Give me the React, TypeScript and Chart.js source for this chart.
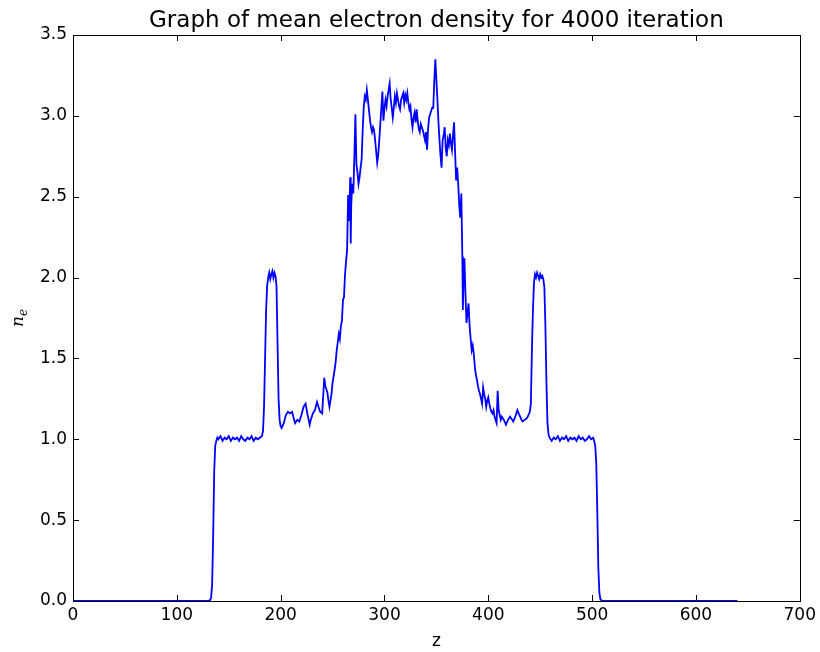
import React, { useEffect, useRef } from "react";
import { Chart, registerables } from "chart.js";

Chart.register(...registerables);

const TITLE = "Graph of mean electron density for 4000 iteration";
const X_LABEL = "z";
const X_TICKS = [0, 100, 200, 300, 400, 500, 600, 700];
const Y_TICKS = [0, 0.5, 1.0, 1.5, 2.0, 2.5, 3.0, 3.5];

const zValues = [
  0, 20, 40, 60, 80, 100, 120, 130, 132, 133, 134, 135, 136, 137, 138, 139,
  140, 142, 144, 146, 148, 150, 152, 154, 156, 158, 160, 162, 164, 166, 168, 170, 172, 174, 176, 178, 180, 182,
  183, 184, 185, 186, 187, 188, 189, 190, 191, 192, 193, 194, 195, 196, 197, 198, 199, 200, 201, 203, 205, 207, 209, 211, 213, 214, 216, 218, 220, 222, 224, 226, 228, 229, 231, 233, 235, 236, 238, 240,
  242, 243, 245, 246, 247, 249, 250, 252, 253, 254, 255, 256, 257, 258, 259, 260, 261, 262, 263, 264, 265, 266, 267, 267.5, 268, 269, 270, 271, 272, 273, 274, 275, 276, 277, 278, 279, 280,
  281, 282, 283, 284, 285, 286, 287, 288, 289, 290, 291, 292, 293, 294, 295, 296, 297, 298, 299, 300, 301, 302, 303, 304, 305, 306, 307, 308, 309, 310, 311, 312, 313, 314, 315, 316, 317, 318, 319, 320,
  321, 322, 323, 324, 325, 326, 327, 328, 329, 330, 331, 332, 333, 334, 335, 336, 337, 338, 339, 340, 341, 342, 343, 344, 345, 346, 347, 348, 349, 350, 351, 352, 353, 354, 355, 356, 357, 358, 359, 360,
  361, 362, 363, 364, 365, 366, 367, 368, 369, 370, 371, 372, 373, 374, 375, 375.5, 376, 377, 378, 379, 380, 381, 382, 383, 384, 385, 386, 387, 388, 389, 390, 391, 392, 393, 394, 395, 396, 397, 398, 399, 400,
  401, 402, 403, 404, 405, 406, 407, 408, 409, 410, 411, 412, 413, 415, 417, 419, 421, 423, 424, 426, 428, 430, 432, 433, 435, 437, 438, 440,
  441, 442, 443, 444, 445, 446, 447, 448, 449, 450, 451, 452, 453, 454, 455, 456, 457, 458, 459, 461, 463, 465, 467, 469, 471, 473, 475, 477, 479, 481, 483, 485, 487, 489, 491, 493, 495, 497, 499,
  501, 502, 503, 504, 505, 506, 507, 508, 510, 530, 560, 600, 640
];

const neValues = [
  0, 0, 0, 0, 0, 0, 0, 0, 0.005, 0.02, 0.1, 0.4, 0.8, 0.96, 0.99, 1.01,
  1.0, 1.02, 0.99, 1.01, 1.0, 1.02, 0.99, 1.01, 1.0, 1.01, 0.99, 1.02, 1.0, 0.99, 1.01, 1.0, 1.02, 0.99, 1.01, 1.0, 1.01, 1.02,
  1.05, 1.2, 1.5, 1.8, 1.95, 2.0, 2.03, 1.99, 2.02, 2.04, 2.0, 2.03, 2.01, 1.95, 1.6, 1.25, 1.12, 1.08, 1.07, 1.1, 1.15, 1.17, 1.16, 1.17, 1.12, 1.1, 1.12, 1.11, 1.15, 1.2, 1.22, 1.15, 1.09, 1.12, 1.16, 1.18, 1.23, 1.21, 1.17, 1.16,
  1.38, 1.33, 1.29, 1.24, 1.2, 1.28, 1.35, 1.43, 1.48, 1.55, 1.6, 1.65, 1.62, 1.7, 1.73, 1.86, 1.88, 2.02, 2.1, 2.17, 2.51, 2.35, 2.62, 2.21, 2.45, 2.58, 2.52, 2.75, 3.01, 2.7, 2.65, 2.58, 2.62, 2.68, 2.73, 2.91, 3.05,
  3.12, 3.1, 3.16, 3.1, 3.04, 2.98, 2.93, 2.9, 2.93, 2.91, 2.85, 2.78, 2.71, 2.76, 2.85, 2.95, 3.05, 3.15, 2.97, 3.05, 3.1, 3.06, 3.12, 3.16, 3.2, 3.1, 3.05, 2.99, 3.05, 3.12, 3.08, 3.14, 3.1, 3.06, 3.04, 3.1, 3.12, 3.14, 3.08, 3.13,
  3.1, 3.14, 3.08, 3.04, 3.06, 2.98, 2.93, 2.99, 3.02, 2.96, 3.04, 2.97, 2.92, 2.9, 2.95, 2.93, 2.91, 2.88, 2.85, 2.9, 2.79, 2.92, 2.99, 3.01, 3.03, 3.05, 3.05, 3.22, 3.35, 3.22, 3.1, 2.96, 2.85, 2.75, 2.68, 2.85, 2.88, 2.93, 2.8, 2.75,
  2.85, 2.82, 2.89, 2.83, 2.79, 2.88, 2.96, 2.78, 2.6, 2.68, 2.58, 2.45, 2.37, 2.52, 2.13, 1.8, 1.95, 2.12, 1.9, 1.72, 1.78, 1.84, 1.7, 1.62, 1.55, 1.58, 1.53, 1.45, 1.4, 1.37, 1.33, 1.3, 1.28, 1.25, 1.22, 1.32, 1.28, 1.25, 1.2, 1.24, 1.26,
  1.22, 1.19, 1.17, 1.16, 1.18, 1.14, 1.12, 1.1, 1.3, 1.18, 1.15, 1.12, 1.14, 1.12, 1.09, 1.12, 1.14, 1.12, 1.11, 1.14, 1.18, 1.15, 1.12, 1.11, 1.12, 1.13, 1.14, 1.17,
  1.22, 1.55, 1.8, 1.97, 2.02, 2.0, 2.03, 2.01, 1.99, 2.02, 2.0, 2.01, 1.99, 1.94, 1.7, 1.35, 1.1, 1.03, 1.01, 0.99, 1.01, 1.0, 1.02, 0.99, 1.01, 1.0, 1.02, 0.99, 1.01, 1.0, 1.01, 0.99, 1.02, 1.0, 1.01, 0.99, 1.0, 1.02, 1.0,
  1.01, 0.99, 0.96, 0.85, 0.55, 0.2, 0.05, 0.01, 0, 0, 0, 0, 0
];

const FONT = "'DejaVu Sans', sans-serif";

const framePlugin = {
  id: "mplFrame",
  beforeDatasetsDraw(chart: any) {
    const { ctx, chartArea } = chart;
    const { left, right, top, bottom } = chartArea;
    const xs = chart.scales.x;
    const ys = chart.scales.y;
    ctx.save();
    ctx.strokeStyle = "#000";
    ctx.lineWidth = 1;
    ctx.strokeRect(Math.round(left) + 0.5, Math.round(top) + 0.5, Math.round(right - left), Math.round(bottom - top));
    const tl = 6;
    ctx.beginPath();
    X_TICKS.forEach((v) => {
      const px = Math.round(xs.getPixelForValue(v)) + 0.5;
      ctx.moveTo(px, bottom);
      ctx.lineTo(px, bottom - tl);
      ctx.moveTo(px, top);
      ctx.lineTo(px, top + tl);
    });
    Y_TICKS.forEach((v) => {
      const py = Math.round(ys.getPixelForValue(v)) + 0.5;
      ctx.moveTo(left, py);
      ctx.lineTo(left + tl, py);
      ctx.moveTo(right, py);
      ctx.lineTo(right - tl, py);
    });
    ctx.stroke();
    ctx.restore();
  },
  afterDraw(chart: any) {
    const { ctx, chartArea } = chart;
    const cx = (chartArea.left + chartArea.right) / 2;
    ctx.save();
    ctx.fillStyle = "#000";
    ctx.textAlign = "center";
    ctx.textBaseline = "alphabetic";
    ctx.font = `23px ${FONT}`;
    ctx.fillText(TITLE, cx, 27);
    ctx.font = `17px ${FONT}`;
    ctx.fillText(X_LABEL, cx, 646);
    const cy = (chartArea.top + chartArea.bottom) / 2;
    ctx.translate(23, cy);
    ctx.rotate(-Math.PI / 2);
    ctx.textAlign = "left";
    ctx.font = `italic 17px 'DejaVu Serif', serif`;
    const nW = ctx.measureText("n").width;
    ctx.font = `italic 12px 'DejaVu Serif', serif`;
    const eW = ctx.measureText("e").width;
    const start = -(nW + eW) / 2;
    ctx.font = `italic 17px 'DejaVu Serif', serif`;
    ctx.fillText("n", start, 0);
    ctx.font = `italic 12px 'DejaVu Serif', serif`;
    ctx.fillText("e", start + nW, 4);
    ctx.restore();
  },
};

export default function App() {
  const ref = useRef<HTMLCanvasElement | null>(null);
  useEffect(() => {
    if (!ref.current) return;
    const data = zValues.map((z, i) => ({ x: z, y: neValues[i] }));
    const chart = new Chart(ref.current, {
      type: "line",
      data: {
        datasets: [
          {
            data,
            borderColor: "#0000ff",
            borderWidth: 1.8,
            pointRadius: 0,
            fill: false,
            tension: 0,
          },
        ],
      },
      options: {
        responsive: false,
        animation: false,
        events: [],
        layout: { padding: { top: 35, right: 20, left: 0, bottom: 0 } },
        plugins: { legend: { display: false }, title: { display: false }, tooltip: { enabled: false } },
        scales: {
          x: {
            type: "linear",
            min: 0,
            max: 700,
            afterBuildTicks: (s: any) => {
              s.ticks = X_TICKS.map((v) => ({ value: v }));
            },
            afterFit: (s: any) => {
              s.height = 51;
            },
            grid: { display: false, drawTicks: false },
            border: { display: false },
            ticks: {
              color: "#000",
              font: { family: FONT, size: 17 },
              padding: 4,
              maxRotation: 0,
              callback: (v: any) => String(v),
            },
          },
          y: {
            type: "linear",
            min: 0,
            max: 3.5,
            afterBuildTicks: (s: any) => {
              s.ticks = Y_TICKS.map((v) => ({ value: v }));
            },
            afterFit: (s: any) => {
              s.width = 73;
            },
            grid: { display: false, drawTicks: false },
            border: { display: false },
            ticks: {
              color: "#000",
              font: { family: FONT, size: 17 },
              padding: 6,
              callback: (v: any) => Number(v).toFixed(1),
            },
          },
        },
      },
      plugins: [framePlugin],
    });
    return () => chart.destroy();
  }, []);
  return (
    <div style={{ position: "absolute", left: 0, top: 0, width: 820, height: 652, background: "#fff" }}>
      <canvas ref={ref} width={820} height={652} style={{ width: 820, height: 652 }} />
    </div>
  );
}
